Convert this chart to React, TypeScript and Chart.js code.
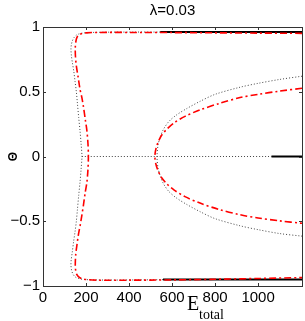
import React, { useEffect, useRef } from "react";
import { Chart, registerables } from "chart.js";

Chart.register(...registerables);

const xTicks = [0, 200, 400, 600, 800, 1000];
const yTicks = [-1, -0.5, 0, 0.5, 1];
const yTickLabels = ["\u22121", "\u22120.5", "0", "0.5", "1"];
const titleText = "\u03bb=0.03";
const yLabel = "\u0398";
const xLabelMain = "E";
const xLabelSub = "total";

// stable branches (solid black)
const stableTopE = [545, 1204];
const stableTopTheta = [0.961, 0.961];
const stableBottomE = [558, 1204];
const stableBottomTheta = [-0.95, -0.95];
const stableMidE = [1062, 1204];
const stableMidTheta = [0, 0];

// unstable branches (dotted)
const dottedMidE = [181, 1062];
const dottedMidTheta = [0, 0];
const dottedCE = [545, 420, 300, 230, 190, 168, 155, 145, 137, 132, 130, 132, 137, 143, 149, 155, 160, 166, 172, 177, 181, 177, 172, 166, 160, 155, 149, 142, 136, 131, 130, 133, 140, 150, 165, 195, 240, 320, 440, 558];
const dottedCTheta = [0.961, 0.961, 0.96, 0.958, 0.954, 0.947, 0.937, 0.92, 0.895, 0.865, 0.83, 0.78, 0.72, 0.66, 0.58, 0.5, 0.41, 0.3, 0.2, 0.1, 0, -0.1, -0.2, -0.3, -0.41, -0.5, -0.58, -0.66, -0.74, -0.8, -0.84, -0.88, -0.91, -0.93, -0.942, -0.95, -0.953, -0.954, -0.953, -0.951];
const dottedPE = [1204, 1100, 1000, 916, 800, 729, 668, 620, 585, 560, 545, 535, 530, 535, 545, 560, 585, 620, 668, 729, 800, 916, 1000, 1100, 1204];
const dottedPTheta = [0.62, 0.595, 0.565, 0.535, 0.48, 0.425, 0.37, 0.32, 0.27, 0.21, 0.15, 0.09, 0, -0.09, -0.15, -0.21, -0.27, -0.32, -0.37, -0.425, -0.48, -0.535, -0.565, -0.595, -0.615];

// approximation (red dash-dot)
const redCE = [1204, 1000, 800, 600, 400, 260, 200, 178, 166, 158, 153, 150, 151, 155, 164, 172, 181, 188, 197, 204, 209, 211, 209, 204, 196, 188, 181, 173, 165, 158, 152, 150, 152, 157, 166, 180, 205, 260, 400, 600, 800, 1000, 1204];
const redCTheta = [0.951, 0.953, 0.955, 0.957, 0.958, 0.958, 0.955, 0.948, 0.937, 0.92, 0.89, 0.84, 0.77, 0.7, 0.606, 0.52, 0.452, 0.385, 0.28, 0.2, 0.1, 0, -0.1, -0.2, -0.28, -0.375, -0.45, -0.53, -0.6, -0.68, -0.76, -0.84, -0.88, -0.91, -0.93, -0.943, -0.951, -0.955, -0.955, -0.953, -0.948, -0.942, -0.935];
const redPE = [1204, 1100, 1000, 916, 820, 730, 660, 610, 575, 550, 535, 525, 520, 525, 535, 550, 575, 610, 660, 730, 820, 916, 1000, 1100, 1204];
const redPTheta = [0.527, 0.505, 0.48, 0.455, 0.41, 0.36, 0.31, 0.26, 0.21, 0.16, 0.11, 0.06, 0, -0.06, -0.11, -0.16, -0.21, -0.26, -0.31, -0.36, -0.41, -0.45, -0.475, -0.497, -0.516];

const zip = (xs: number[], ys: number[]) => xs.map((x, i) => ({ x, y: ys[i] }));

const BLACK = "#000000";
const GRAY = "#444444";
const RED = "#ff0000";

const framePlugin = {
  id: "frame",
  afterDraw(chart: any) {
    const { ctx, chartArea } = chart;
    const { left, right, top, bottom } = chartArea;
    const xs = chart.scales.x;
    const ys = chart.scales.y;
    ctx.save();
    ctx.strokeStyle = "#333333";
    ctx.lineWidth = 1;
    ctx.strokeRect(Math.round(left) + 0.5, Math.round(top) + 0.5, Math.round(right - left), Math.round(bottom - top));
    const tl = 3;
    ctx.beginPath();
    xTicks.forEach((v) => {
      const p = Math.round(xs.getPixelForValue(v)) + 0.5;
      ctx.moveTo(p, bottom);
      ctx.lineTo(p, bottom - tl);
      ctx.moveTo(p, top);
      ctx.lineTo(p, top + tl);
    });
    yTicks.forEach((v) => {
      const p = Math.round(ys.getPixelForValue(v)) + 0.5;
      ctx.moveTo(left, p);
      ctx.lineTo(left + tl, p);
      ctx.moveTo(right, p);
      ctx.lineTo(right - tl, p);
    });
    ctx.stroke();

    ctx.fillStyle = "#000";
    ctx.textAlign = "center";
    ctx.textBaseline = "alphabetic";
    ctx.font = '15px "Liberation Sans", Arial, sans-serif';
    ctx.fillText(titleText, (left + right) / 2, 15);

    ctx.save();
    ctx.translate(17, (top + bottom) / 2);
    ctx.rotate(-Math.PI / 2);
    ctx.font = 'bold 12px "Liberation Sans", Arial, sans-serif';
    ctx.textBaseline = "alphabetic";
    ctx.fillText(yLabel, 0, 0);
    ctx.restore();

    ctx.textAlign = "left";
    ctx.font = '20px "Liberation Serif", "Times New Roman", serif';
    ctx.fillText(xLabelMain, 187, 310);
    ctx.font = '14px "Liberation Serif", "Times New Roman", serif';
    ctx.fillText(xLabelSub, 199, 319);
    ctx.restore();
  },
};

export default function App() {
  const ref = useRef<HTMLCanvasElement | null>(null);
  useEffect(() => {
    if (!ref.current) return;
    const common = { pointRadius: 0, fill: false, tension: 0.3 };
    const chart = new Chart(ref.current, {
      type: "line",
      data: {
        datasets: [
          { ...common, data: zip(redCE, redCTheta), borderColor: RED, borderWidth: 1.6, borderDash: [7, 3, 2, 3], order: 0 },
          { ...common, data: zip(redPE, redPTheta), borderColor: RED, borderWidth: 1.6, borderDash: [7, 3, 2, 3], order: 0 },
          { ...common, data: zip(stableTopE, stableTopTheta), borderColor: BLACK, borderWidth: 2, order: 1 },
          { ...common, data: zip(stableBottomE, stableBottomTheta), borderColor: BLACK, borderWidth: 2, order: 1 },
          { ...common, data: zip(stableMidE, stableMidTheta), borderColor: BLACK, borderWidth: 2, order: 1 },
          { ...common, data: zip(dottedMidE, dottedMidTheta), borderColor: GRAY, borderWidth: 1, borderDash: [1, 2], order: 2 },
          { ...common, data: zip(dottedCE, dottedCTheta), borderColor: GRAY, borderWidth: 1, borderDash: [1, 2], order: 2 },
          { ...common, data: zip(dottedPE, dottedPTheta), borderColor: GRAY, borderWidth: 1, borderDash: [1, 2], order: 2 },
        ],
      },
      options: {
        animation: false,
        responsive: false,
        parsing: true,
        layout: { padding: { top: 27, right: 3, left: 0, bottom: 0 } },
        plugins: { legend: { display: false }, tooltip: { enabled: false }, title: { display: false } },
        scales: {
          x: {
            type: "linear",
            min: 0,
            max: 1204,
            grid: { display: false, drawTicks: false },
            border: { display: false },
            afterBuildTicks: (s: any) => {
              s.ticks = xTicks.map((v) => ({ value: v }));
            },
            afterFit: (s: any) => {
              s.height = 35;
            },
            ticks: {
              padding: 3,
              maxRotation: 0,
              autoSkip: false,
              color: "#000",
              font: { family: '"Liberation Sans", Arial, sans-serif', size: 15 },
              callback: (v: any) => String(v),
            },
          },
          y: {
            type: "linear",
            min: -1,
            max: 1,
            grid: { display: false, drawTicks: false },
            border: { display: false },
            afterBuildTicks: (s: any) => {
              s.ticks = yTicks.map((v) => ({ value: v }));
            },
            afterFit: (s: any) => {
              s.width = 43;
            },
            ticks: {
              padding: 3,
              autoSkip: false,
              color: "#000",
              font: { family: '"Liberation Sans", Arial, sans-serif', size: 15 },
              callback: (v: any) => {
                const i = yTicks.indexOf(Number(v));
                return i >= 0 ? yTickLabels[i] : "";
              },
            },
          },
        },
      },
      plugins: [framePlugin],
    });
    return () => chart.destroy();
  }, []);
  return (
    <div style={{ position: "absolute", left: 0, top: 0, width: 305, height: 321, background: "#fff" }}>
      <canvas ref={ref} width={305} height={321} style={{ display: "block" }} />
    </div>
  );
}
